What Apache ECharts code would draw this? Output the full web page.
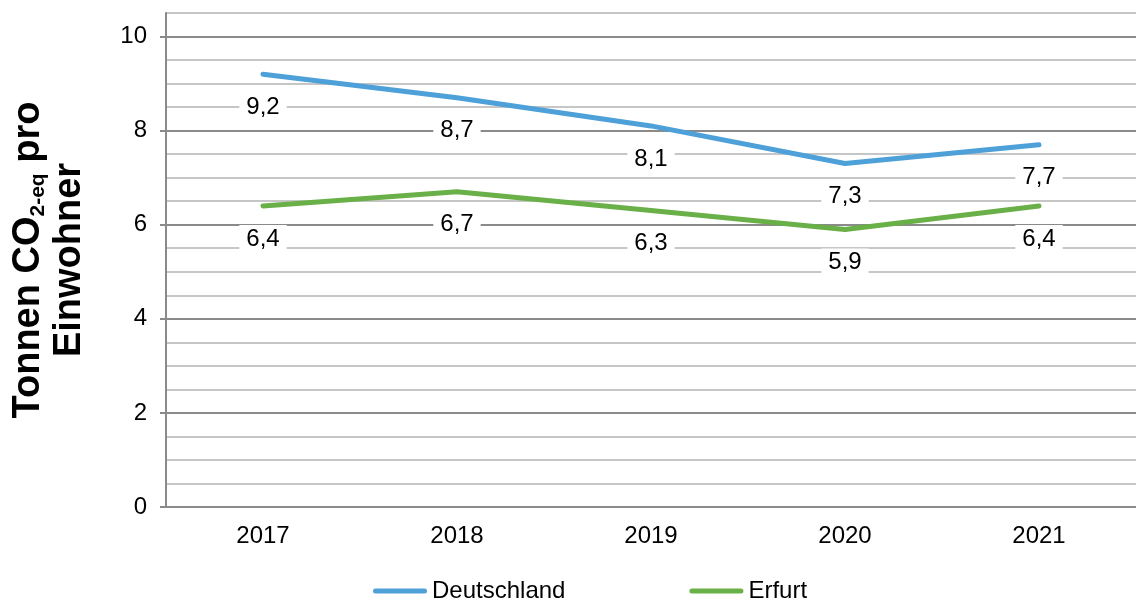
<!DOCTYPE html>
<html>
<head>
<meta charset="utf-8">
<script src="https://cdn.jsdelivr.net/npm/echarts@6/dist/echarts.min.js"></script>
<style>
  html, body { margin: 0; padding: 0; background: #fff; }
  #chart { width: 1136px; height: 601px; }
</style>
</head>
<body>
<div id="chart"></div>
<script>
var years = ['2017', '2018', '2019', '2020', '2021'];
var deutschland = [9.2, 8.7, 8.1, 7.3, 7.7];
var erfurt = [6.4, 6.7, 6.3, 5.9, 6.4];
var yTicks = [0, 2, 4, 6, 8, 10];

var majorGrey = '#8a8a8a';
var minorGrey = '#c6c6c6';

var myChart = echarts.init(document.getElementById('chart'), null, {
  renderer: 'canvas',
  useDirtyRect: false
});

function commaLabel(p) {
  return String(p.value).replace('.', ',');
}

function valueLabel() {
  return {
    show: true,
    position: 'bottom',
    distance: 19,
    fontSize: 24,
    color: '#000',
    backgroundColor: '#fff',
    padding: [2, 7],
    formatter: commaLabel
  };
}

var option = {
  animation: false,
  textStyle: { fontFamily: 'Liberation Sans, Arial, sans-serif' },
  grid: {
    left: 166,
    right: -10,
    top: 13,
    bottom: 94,
    containLabel: false
  },
  legend: {
    left: 373,
    top: 579,
    padding: 0,
    itemWidth: 54,
    itemHeight: 5,
    itemGap: 124,
    icon: 'path://M2.5,0 L51.5,0 A2.5,2.5 0 0 1 51.5,5 L2.5,5 A2.5,2.5 0 0 1 2.5,0 Z',
    textStyle: { fontSize: 24, color: '#000' },
    data: ['Deutschland', 'Erfurt']
  },
  xAxis: {
    type: 'category',
    data: years,
    boundaryGap: true,
    axisLine: { lineStyle: { color: majorGrey, width: 2 } },
    axisTick: { length: 7, lineStyle: { color: majorGrey, width: 2 } },
    axisLabel: { fontSize: 24, color: '#000', margin: 17 },
    splitLine: { show: false }
  },
  yAxis: [
    {
      // gridlines every 0.5, darker every 2
      type: 'value',
      position: 'left',
      min: 0,
      max: 10.5,
      interval: 0.5,
      axisLine: { show: true, lineStyle: { color: majorGrey, width: 2 } },
      axisTick: { show: false },
      axisLabel: { show: false },
      splitLine: {
        show: true,
        lineStyle: { color: [majorGrey, minorGrey, minorGrey, minorGrey], width: 2 }
      }
    },
    {
      // labels and ticks
      type: 'value',
      position: 'left',
      min: 0,
      max: 10.5,
      interval: 2,
      name: '{t|Tonnen CO}{s|2-eq}{t| pro}\n{t|Einwohner}',
      nameLocation: 'middle',
      nameGap: 76,
      nameRotate: 90,
      nameTextStyle: {
        color: '#000',
        rich: {
          t: { fontSize: 38, fontWeight: 'bold', lineHeight: 41, verticalAlign: 'middle', color: '#000' },
          s: { fontSize: 21, fontWeight: 'bold', lineHeight: 20, verticalAlign: 'bottom', color: '#000' }
        }
      },
      axisLine: { show: false },
      axisTick: { show: true, length: 6, customValues: yTicks, lineStyle: { color: majorGrey, width: 2 } },
      axisLabel: { fontSize: 24, color: '#000', margin: 19, customValues: yTicks },
      splitLine: { show: false }
    }
  ],
  series: [
    {
      name: 'Deutschland',
      type: 'line',
      data: deutschland,
      symbol: 'circle',
      symbolSize: 0.1,
      showSymbol: true,
      color: '#4ea0d8',
      lineStyle: { width: 5, cap: 'round', join: 'round' },
      label: valueLabel()
    },
    {
      name: 'Erfurt',
      type: 'line',
      data: erfurt,
      symbol: 'circle',
      symbolSize: 0.1,
      showSymbol: true,
      color: '#6ab048',
      lineStyle: { width: 5, cap: 'round', join: 'round' },
      label: valueLabel()
    }
  ]
};

if (option && typeof option === 'object') {
  myChart.setOption(option);
}

window.addEventListener('resize', myChart.resize);
</script>
</body>
</html>
